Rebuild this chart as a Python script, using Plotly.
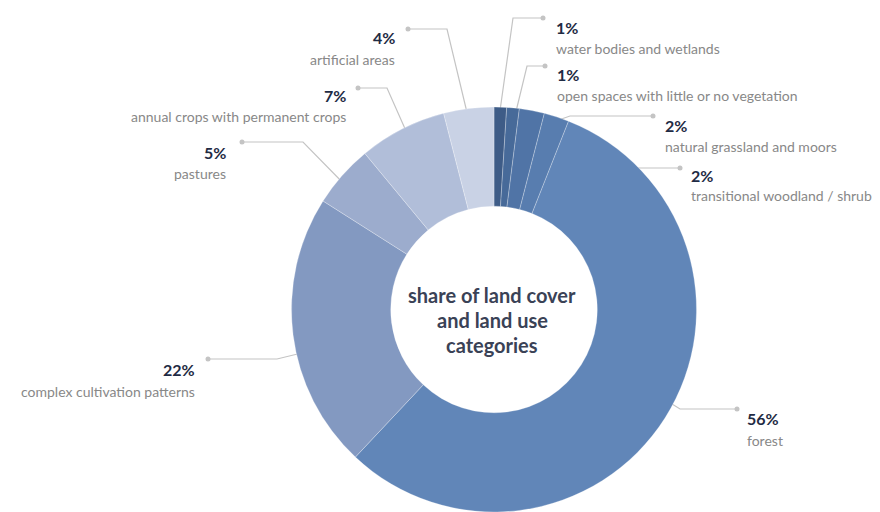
import plotly.graph_objects as go

categories = [
    "water bodies and wetlands",
    "open spaces with little or no vegetation",
    "natural grassland and moors",
    "transitional woodland / shrub",
    "forest",
    "complex cultivation patterns",
    "pastures",
    "annual crops with permanent crops",
    "artificial areas",
]
shares = [1, 1, 2, 2, 56, 22, 5, 7, 4]
pct_labels = ["1%", "1%", "2%", "2%", "56%", "22%", "5%", "7%", "4%"]
colors = ["#3e5c87", "#476a99", "#5074a6", "#587daf", "#6186b8",
          "#8399c1", "#9caccd", "#b1bed9", "#c9d2e5"]
center_lines = ["share of land cover", "and land use", "categories"]

W, H = 880, 512
cx, cy, R = 494, 310, 203

# leader line paths (pixel coords) and label anchors
leaders = [
    [(498, 125), (513, 18), (543, 18)],
    [(512, 128), (527, 66), (545, 66)],
    [(530, 130), (570, 116), (653, 116)],
    [(542, 182), (590, 168), (680, 168)],
    [(656, 394), (680, 409), (737, 409)],
    [(314, 350), (277, 359), (208, 359)],
    [(348, 188), (303, 142), (242, 142)],
    [(410, 140), (387, 88), (358, 88)],
    [(470, 125), (447, 29), (408, 29)],
]
label_pos = [
    (554, 27, 48, "left"),
    (555, 74, 95, "left"),
    (663, 125, 146, "left"),
    (689, 175, 195, "left"),
    (745, 418, 440, "left"),
    (197, 369, 391, "right"),
    (228, 152, 173, "right"),
    (348, 95, 116, "right"),
    (397, 37, 59, "right"),
]

fig = go.Figure()
fig.add_trace(go.Pie(
    labels=categories, values=shares, sort=False, direction="clockwise",
    rotation=0, hole=0.51, textinfo="none", hoverinfo="label+percent",
    marker=dict(colors=colors, line=dict(color="rgba(255,255,255,0.45)", width=0.6)),
    domain=dict(x=[(cx - R) / W, (cx + R) / W], y=[max(0, (H - cy - R) / H), (H - cy + R) / H]),
    showlegend=False,
))

for path in leaders:
    xs = [p[0] for p in path]
    ys = [p[1] for p in path]
    fig.add_trace(go.Scatter(x=xs, y=ys, mode="lines", line=dict(color="#c4c4c4", width=1.2),
                             hoverinfo="skip", showlegend=False))
    fig.add_trace(go.Scatter(x=[xs[-1]], y=[ys[-1]], mode="markers",
                             marker=dict(color="#c4c4c4", size=5), hoverinfo="skip", showlegend=False))

annotations = []
for cat, pct, (x, yp, yl, side) in zip(categories, pct_labels, label_pos):
    annotations.append(dict(x=x, y=yp, xref="x", yref="y", text="<b>" + pct + "</b>", showarrow=False,
                            xanchor=side, yanchor="middle",
                            font=dict(family="Lato", size=16, color="#1f2b44")))
    annotations.append(dict(x=x, y=yl, xref="x", yref="y", text=cat, showarrow=False,
                            xanchor=side, yanchor="middle",
                            font=dict(family="Lato", size=14, color="#888888")))
for i, line in enumerate(center_lines):
    annotations.append(dict(x=492, y=295 + 25 * i, xref="x", yref="y", text="<b>" + line + "</b>",
                            showarrow=False, xanchor="center", yanchor="middle",
                            font=dict(family="Lato", size=20, color="#3a4256")))

fig.update_layout(
    width=W, height=H, margin=dict(l=0, r=0, t=0, b=0),
    paper_bgcolor="white", plot_bgcolor="rgba(0,0,0,0)",
    xaxis=dict(range=[0, W], visible=False, fixedrange=True, domain=[0, 1]),
    yaxis=dict(range=[H, 0], visible=False, fixedrange=True, domain=[0, 1]),
    annotations=annotations,
)

fig.write_html("out.html", config={"displayModeBar": False},
               post_script="document.body.style.margin='0';document.body.style.overflow='hidden';")
